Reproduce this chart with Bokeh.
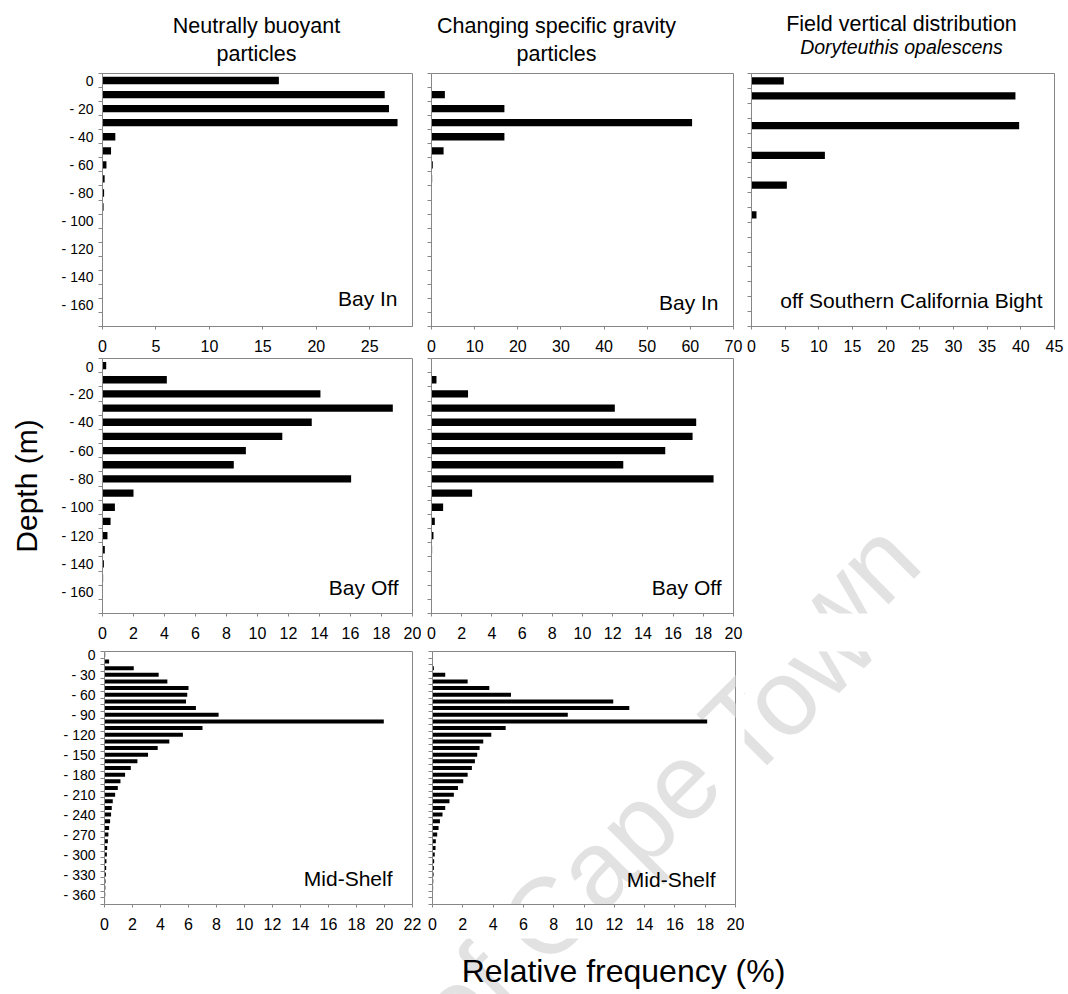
import math

from bokeh.core.properties import value
from bokeh.embed import file_html
from bokeh.layouts import column, row
from bokeh.models import ColumnDataSource, FixedTicker, Label, Range1d
from bokeh.plotting import figure
from bokeh.resources import INLINE

# ---------------------------------------------------------------------------
# Relative frequency (%) of particles / squid per 10 m depth bin
# ---------------------------------------------------------------------------
depth_bay = list(range(0, -180, -10))      # 0 ... -170 m (18 bins)
depth_field = list(range(0, -170, -10))    # 0 ... -160 m (17 bins)
depth_shelf = list(range(0, -380, -10))    # 0 ... -370 m (38 bins)

nb_bay_in = [16.5, 26.4, 26.8, 27.6, 1.2, 0.8, 0.37, 0.2, 0.15, 0.1, 0.05,
             0, 0, 0, 0, 0, 0, 0]
csg_bay_in = [0, 3.1, 16.9, 60.4, 16.9, 2.8, 0.3, 0.15, 0, 0, 0,
              0, 0, 0, 0, 0, 0, 0]
field_scb = [4.8, 39.2, 0, 39.75, 0, 10.9, 0, 5.25, 0, 0.74, 0,
             0, 0, 0, 0, 0, 0]

nb_bay_off = [0.24, 4.15, 14.06, 18.73, 13.5, 11.6, 9.25, 8.47, 16.04, 2.0,
              0.8, 0.52, 0.32, 0.15, 0.09, 0.04, 0, 0]
csg_bay_off = [0, 0.33, 2.42, 12.14, 17.53, 17.29, 15.48, 12.7, 18.68, 2.69,
               0.77, 0.22, 0.13, 0.04, 0, 0, 0, 0]

nb_shelf = [0.05, 0.33, 2.09, 3.87, 4.49, 6.0, 5.91, 5.82, 6.53, 8.15,
            19.95, 7.0, 5.6, 4.63, 3.8, 3.11, 2.35, 1.88, 1.47, 1.14,
            0.95, 0.76, 0.59, 0.52, 0.47, 0.4, 0.33, 0.28, 0.24, 0.19,
            0.17, 0.14, 0.12, 0.1, 0.07, 0.06, 0.05, 0.04]
csg_shelf = [0, 0, 0.09, 0.84, 2.32, 3.75, 5.18, 11.93, 12.99, 8.93,
             18.13, 4.83, 3.88, 3.35, 3.11, 2.95, 2.8, 2.6, 2.32, 2.03,
             1.68, 1.41, 1.12, 0.84, 0.66, 0.49, 0.4, 0.31, 0.22, 0.2,
             0.15, 0.11, 0.09, 0.07, 0.05, 0.04, 0.03, 0.02]

col_titles = [["Neutrally buoyant", "particles"],
              ["Changing specific gravity", "particles"],
              ["Field vertical distribution", "Doryteuthis opalescens"]]

# ---------------------------------------------------------------------------
# styling
# ---------------------------------------------------------------------------
GREY = "#868686"
SANS = "'Liberation Sans', Arial, sans-serif"
WATERMARK = "University of Cape Town"
WM_ANCHOR = (900, 562)     # page position where the watermark text ends
WM_SIZE = "108px"
WM_COLOR = "#e2e2e2"


def frame_to_data(geom, xr, yr, gx, gy):
    """Convert a page pixel position into data units of one figure."""
    fx, fy, width, height, left, top, fw, fh = geom
    x = xr.start + (gx - (fx + left)) / fw * (xr.end - xr.start)
    y = yr.end - (gy - (fy + top)) / fh * (yr.end - yr.start)
    return x, y


def add_watermark(p, geom, xr, yr):
    x, y = frame_to_data(geom, xr, yr, *WM_ANCHOR)
    p.add_layout(Label(x=x, y=y, text=WATERMARK, angle=math.pi / 4,
                       text_align="right", text_baseline="alphabetic",
                       text_font=SANS, text_font_size=WM_SIZE,
                       text_color=WM_COLOR, level="underlay"))


def base_figure(geom, xr, yr, axes=True):
    fx, fy, width, height, left, top, fw, fh = geom
    kw = {}
    if not axes:
        kw = dict(x_axis_type=None, y_axis_type=None)
    p = figure(width=width, height=height, x_range=xr, y_range=yr,
               output_backend="svg", toolbar_location=None,
               min_border_left=left, min_border_top=top,
               min_border_right=width - left - fw,
               min_border_bottom=height - top - fh, **kw)
    p.background_fill_color = "white"
    p.border_fill_color = "white"
    p.grid.visible = False
    return p


def bar_panel(geom, depth, freq, xmax, xstep, bar_h, tag, tag_pad,
              ylab_step=None, ytitle=None, watermark=False):
    fx, fy, width, height, left, top, fw, fh = geom
    ymin = depth[-1] - 5
    xr = Range1d(0, xmax)
    yr = Range1d(ymin, 5)
    p = base_figure(geom, xr, yr)
    p.outline_line_color = GREY
    p.outline_line_width = 1

    src = ColumnDataSource(dict(depth=depth, freq=freq))
    p.hbar(y="depth", left=0, right="freq", height=bar_h, source=src,
           fill_color="black", line_color=None)

    # horizontal axis
    xa = p.xaxis[0]
    xa.ticker = FixedTicker(ticks=list(range(0, int(xmax) + 1, xstep)))
    xa.axis_line_color = GREY
    xa.major_tick_line_color = GREY
    xa.major_tick_out = 3
    xa.major_tick_in = 0
    xa.minor_tick_line_color = None
    xa.major_label_standoff = 10
    xa.major_label_text_font = SANS
    xa.major_label_text_font_size = "16px"
    xa.major_label_text_color = "black"

    # depth axis: labels on bin centres, tick marks between bins
    bounds = [d + 5 for d in depth] + [ymin]
    ya = p.yaxis[0]
    if ylab_step:
        labelled = [d for d in depth if d % ylab_step == 0 and d > ymin + 10]
        ya.ticker = FixedTicker(ticks=labelled, minor_ticks=bounds)
        ya.major_label_overrides = {d: ("0" if d == 0 else f"- {abs(d)}")
                                    for d in labelled}
    else:
        ya.ticker = FixedTicker(ticks=[], minor_ticks=bounds)
    ya.axis_line_color = GREY
    ya.major_tick_line_color = None
    ya.major_tick_out = 4
    ya.major_tick_in = 0
    ya.minor_tick_line_color = GREY
    ya.minor_tick_out = 4
    ya.minor_tick_in = 0
    ya.major_label_standoff = 5
    ya.major_label_text_font = SANS
    ya.major_label_text_font_size = "14px"
    ya.major_label_text_color = "black"
    if ytitle:
        ya.axis_label = ytitle
        ya.axis_label_text_font = SANS
        ya.axis_label_text_font_size = "30px"
        ya.axis_label_text_font_style = "normal"
        ya.axis_label_text_color = "black"
        ya.axis_label_standoff = 16

    # site name, bottom-right inside the frame (pad: right edge, text middle)
    pad_r, pad_b = tag_pad
    p.add_layout(Label(x=xmax - pad_r / fw * xmax,
                       y=ymin + pad_b / fh * (5 - ymin),
                       text=tag, text_align="right", text_baseline="alphabetic",
                       text_font=SANS, text_font_size="21px",
                       text_color="black"))
    if watermark:
        add_watermark(p, geom, xr, yr)
    return p


def blank_panel(geom, watermark=True):
    fx, fy, width, height = geom[:4]
    xr = Range1d(0, width)
    yr = Range1d(0, height)
    p = base_figure(geom, xr, yr, axes=False)
    p.outline_line_color = None
    if watermark:
        add_watermark(p, geom, xr, yr)
    return p


# geometry: page x, page y, width, height, border left, border top, frame w, frame h
HEAD = (0, 0, 1068, 72, 0, 0, 1068, 72)
R1 = [(0, 72, 421, 286, 102, 1, 310, 253),
      (421, 72, 323, 286, 10, 1, 302, 253),
      (744, 72, 324, 286, 7, 1, 303, 253)]
R2 = [(0, 358, 421, 288, 102, 0, 310, 255),
      (421, 358, 323, 288, 10, 0, 302, 255),
      (744, 358, 324, 288, 0, 0, 324, 288)]
R3 = [(0, 646, 421, 292, 104, 5, 308, 253),
      (421, 646, 323, 292, 11, 5, 303, 253),
      (744, 646, 324, 292, 0, 0, 324, 292)]
FOOT = (0, 938, 1068, 56, 0, 0, 1068, 56)

# ---- column headings ------------------------------------------------------
head = base_figure(HEAD, Range1d(0, 1068), Range1d(72, 0), axes=False)
head.outline_line_color = None
title_x = [256, 556, 901]
head.text(x=title_x[:2], y=[25, 25],
          text=[col_titles[0][0], col_titles[1][0]],
          text_align="center", text_baseline="alphabetic",
          text_font=value(SANS), text_font_size="21.5px", text_color="black")
head.text(x=title_x[:2], y=[53, 53],
          text=[col_titles[0][1], col_titles[1][1]],
          text_align="center", text_baseline="alphabetic",
          text_font=value(SANS), text_font_size="21.5px", text_color="black")
head.text(x=[title_x[2]], y=[23], text=[col_titles[2][0]],
          text_align="center", text_baseline="alphabetic",
          text_font=value(SANS), text_font_size="21.5px", text_color="black")
head.text(x=[title_x[2]], y=[46], text=[col_titles[2][1]],
          text_align="center", text_baseline="alphabetic",
          text_font=value(SANS), text_font_style="italic",
          text_font_size="19.5px", text_color="black")

# ---- panels ---------------------------------------------------------------
p11 = bar_panel(R1[0], depth_bay, nb_bay_in, 29, 5, 5.2, "Bay In", (15, 28), ylab_step=20)
p12 = bar_panel(R1[1], depth_bay, csg_bay_in, 70, 10, 5.2, "Bay In", (15, 24))
p13 = bar_panel(R1[2], depth_field, field_scb, 45, 5, 4.8,
                "off Southern California Bight", (12, 26))

p21 = bar_panel(R2[0], depth_bay, nb_bay_off, 20, 2, 5.2, "Bay Off", (14, 26),
                ylab_step=20, ytitle="Depth (m)")
p22 = bar_panel(R2[1], depth_bay, csg_bay_off, 20, 2, 5.2, "Bay Off", (12, 26))
p23 = blank_panel(R2[2])

p31 = bar_panel(R3[0], depth_shelf, nb_shelf, 22, 2, 6, "Mid-Shelf", (20, 26), ylab_step=30)
p32 = bar_panel(R3[1], depth_shelf, csg_shelf, 20, 2, 6, "Mid-Shelf", (20, 25),
                watermark=True)
p33 = blank_panel(R3[2])

# ---- common x title -------------------------------------------------------
foot = blank_panel(FOOT)
foot.text(x=[623], y=[56 - (970 - 938)], text=["Relative frequency (%)"],
          text_align="center", text_baseline="alphabetic",
          text_font=value(SANS), text_font_size="32px", text_color="black")

layout = column(head,
                row(p11, p12, p13, spacing=0),
                row(p21, p22, p23, spacing=0),
                row(p31, p32, p33, spacing=0),
                foot, spacing=0)

with open("out.html", "w") as f:
    f.write(file_html(layout, INLINE))
